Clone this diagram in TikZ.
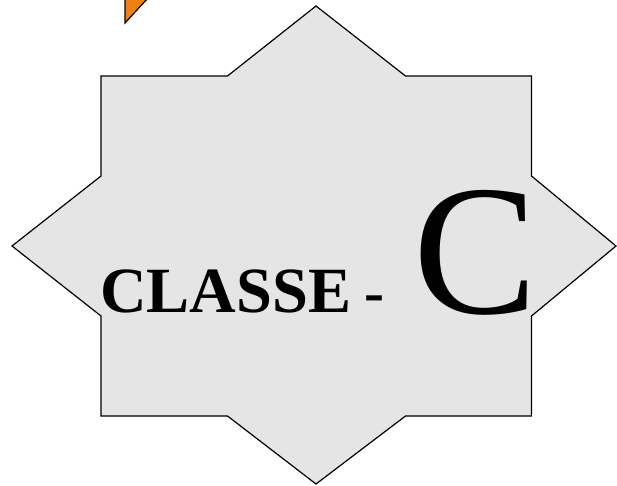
\documentclass[tikz,border=0pt]{standalone}
\usepackage{fontspec}
\setmainfont{Liberation Serif}
\definecolor{stargray}{HTML}{E5E5E5}
\definecolor{orangetri}{HTML}{F08010}
\tikzset{
  starshape/.style={draw=black, fill=stargray, line width=1.2pt, line join=miter},
  tri/.style={draw=black, fill=orangetri, line width=1.2pt},
  lbl/.style={inner sep=0pt, anchor=base west}
}
\begin{document}
\begin{tikzpicture}[x=1pt,y=1pt]
\useasboundingbox (0,0) rectangle (617,485);
% orange triangle (partly off the top)
\draw[tri] (125,462) -- (125,500) -- (160,500) -- cycle;
% eight-pointed star
\draw[starshape] (316,479) -- (405.5,409) -- (531.5,409) -- (531.5,309) -- (616,239)
  -- (531.5,169) -- (531.5,69) -- (405.5,69) -- (316,1) -- (227.5,69) -- (101,69)
  -- (101,169) -- (12,239) -- (101,309) -- (101,409) -- (227.5,409) -- cycle;
\node[lbl] (classe) at (100,173) {\fontsize{64.5}{64.5}\selectfont\bfseries CLASSE};
\node[lbl] (dash) at (364,173) {\fontsize{60}{60}\selectfont\bfseries -};
\node[lbl] (c) at (413,172) {\fontsize{186}{186}\selectfont C};
\end{tikzpicture}
\end{document}
